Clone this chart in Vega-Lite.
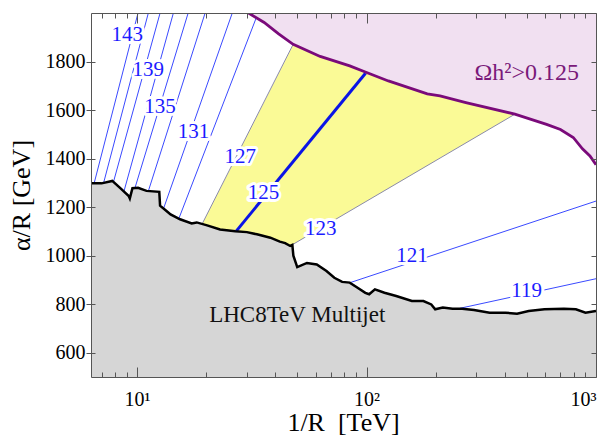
{
  "$schema": "https://vega.github.io/schema/vega-lite/v6.json",
  "width": 505,
  "height": 364,
  "autosize": {"type": "none"},
  "padding": {"left": 91, "top": 13, "right": 13, "bottom": 60},
  "config": {
    "font": "'Liberation Serif', 'Times New Roman', Times, serif",
    "view": {"stroke": null},
    "text": {"font": "'Liberation Serif', 'Times New Roman', Times, serif"},
    "axis": {"grid": false, "labelFont": "'Liberation Serif', 'Times New Roman', Times, serif", "titleFont": "'Liberation Serif', 'Times New Roman', Times, serif", "labelColor": "#000", "titleColor": "#000", "titleFontWeight": "normal", "domainColor": "#555", "tickColor": "#555", "domainWidth": 1, "tickWidth": 1}
  },
  "resolve": {"axis": {"x": "independent", "y": "independent"}},
  "datasets": {
    "lhc": [
      {"x": 6.3, "y": 1298}, {"x": 7.0, "y": 1298}, {"x": 7.8, "y": 1308}, {"x": 8.5, "y": 1276}, {"x": 9.2, "y": 1246}, {"x": 9.3, "y": 1236}, {"x": 9.55, "y": 1278}, {"x": 10.1, "y": 1280}, {"x": 11.0, "y": 1267}, {"x": 12.5, "y": 1263}, {"x": 12.6, "y": 1206}, {"x": 13.6, "y": 1180}, {"x": 14.0, "y": 1170}, {"x": 15.4, "y": 1150}, {"x": 17.3, "y": 1133}, {"x": 18.2, "y": 1137}, {"x": 20.2, "y": 1125}, {"x": 23.0, "y": 1108}, {"x": 26.8, "y": 1101}, {"x": 30.1, "y": 1097}, {"x": 33.3, "y": 1088}, {"x": 38.1, "y": 1074}, {"x": 41.9, "y": 1058}, {"x": 44.2, "y": 1052}, {"x": 46.5, "y": 1040}, {"x": 47.5, "y": 1044}, {"x": 48.0, "y": 1000}, {"x": 49.9, "y": 953}, {"x": 55.0, "y": 970}, {"x": 60.7, "y": 964}, {"x": 66.9, "y": 937}, {"x": 72.4, "y": 909}, {"x": 78.3, "y": 892}, {"x": 84.5, "y": 889}, {"x": 91.4, "y": 868}, {"x": 98.8, "y": 847}, {"x": 102.7, "y": 841}, {"x": 108.8, "y": 861}, {"x": 119.7, "y": 847}, {"x": 134.7, "y": 834}, {"x": 157.6, "y": 813}, {"x": 177, "y": 813}, {"x": 191.5, "y": 799}, {"x": 199.2, "y": 779}, {"x": 215, "y": 786}, {"x": 237, "y": 781}, {"x": 261, "y": 781}, {"x": 294, "y": 776}, {"x": 344, "y": 765}, {"x": 403, "y": 765}, {"x": 453, "y": 761}, {"x": 509, "y": 772}, {"x": 596, "y": 779}, {"x": 725, "y": 781}, {"x": 817, "y": 779}, {"x": 900, "y": 765}, {"x": 1000, "y": 772}
    ],
    "relic": [
      {"x": 30.6, "y": 2000}, {"x": 35.8, "y": 1961}, {"x": 41.4, "y": 1914}, {"x": 47.9, "y": 1871}, {"x": 62.8, "y": 1821}, {"x": 84.5, "y": 1782}, {"x": 98.8, "y": 1757}, {"x": 124.5, "y": 1720}, {"x": 184, "y": 1667}, {"x": 209, "y": 1658}, {"x": 271, "y": 1631}, {"x": 443, "y": 1583}, {"x": 609, "y": 1541}, {"x": 700, "y": 1520}, {"x": 796, "y": 1487}, {"x": 873, "y": 1440}, {"x": 941, "y": 1411}, {"x": 1000, "y": 1375}
    ],
    "band": [
      {"x": 19.2, "top": 1130, "bottom": 1130}, {"x": 20.2, "top": 1171, "bottom": 1125}, {"x": 23.0, "top": 1276, "bottom": 1108}, {"x": 26.8, "top": 1399, "bottom": 1101}, {"x": 30.1, "top": 1493, "bottom": 1097}, {"x": 33.3, "top": 1575, "bottom": 1088}, {"x": 38.1, "top": 1684, "bottom": 1074}, {"x": 41.9, "top": 1761, "bottom": 1058}, {"x": 44.2, "top": 1804, "bottom": 1052}, {"x": 46.5, "top": 1845, "bottom": 1040}, {"x": 47.9, "top": 1871, "bottom": 1047}, {"x": 62.8, "top": 1821, "bottom": 1112}, {"x": 84.5, "top": 1782, "bottom": 1184}, {"x": 98.8, "top": 1757, "bottom": 1221}, {"x": 124.5, "top": 1720, "bottom": 1277}, {"x": 184, "top": 1667, "bottom": 1371}, {"x": 209, "top": 1658, "bottom": 1402}, {"x": 271, "top": 1631, "bottom": 1464}, {"x": 443, "top": 1583, "bottom": 1583}
    ],
    "contours": [
      {"m": "143", "k": "thin", "x": 6.5, "y": 1298}, {"m": "143", "k": "thin", "x": 10.1, "y": 2000},
      {"m": "141", "k": "thin", "x": 7.15, "y": 1300}, {"m": "141", "k": "thin", "x": 11.2, "y": 2000},
      {"m": "139", "k": "thin", "x": 7.9, "y": 1305}, {"m": "139", "k": "thin", "x": 12.6, "y": 2000},
      {"m": "137", "k": "thin", "x": 8.75, "y": 1262}, {"m": "137", "k": "thin", "x": 14.4, "y": 2000},
      {"m": "135", "k": "thin", "x": 9.8, "y": 1280}, {"m": "135", "k": "thin", "x": 16.7, "y": 2000},
      {"m": "133", "k": "thin", "x": 11.2, "y": 1266}, {"m": "133", "k": "thin", "x": 19.8, "y": 2000},
      {"m": "131", "k": "thin", "x": 13.0, "y": 1190}, {"m": "131", "k": "thin", "x": 26.0, "y": 2000},
      {"m": "129", "k": "thin", "x": 15.2, "y": 1152}, {"m": "129", "k": "thin", "x": 33.0, "y": 1978},
      {"m": "127", "k": "edge", "x": 19.2, "y": 1130}, {"m": "127", "k": "edge", "x": 47.9, "y": 1871},
      {"m": "125", "k": "main", "x": 27.0, "y": 1100}, {"m": "125", "k": "main", "x": 99, "y": 1752},
      {"m": "123", "k": "edge", "x": 46.5, "y": 1040}, {"m": "123", "k": "edge", "x": 443, "y": 1583},
      {"m": "121", "k": "thin", "x": 84.9, "y": 889}, {"m": "121", "k": "thin", "x": 1000, "y": 1225},
      {"m": "119", "k": "thin", "x": 255, "y": 783}, {"m": "119", "k": "thin", "x": 1000, "y": 905}
    ],
    "labels": [
      {"t": "143", "x": 9.07, "y": 1910}, {"t": "139", "x": 11.2, "y": 1766}, {"t": "135", "x": 12.6, "y": 1614}, {"t": "131", "x": 17.6, "y": 1511}, {"t": "127", "x": 28.2, "y": 1408}, {"t": "125", "x": 35.6, "y": 1260}, {"t": "123", "x": 63.1, "y": 1111}, {"t": "121", "x": 158, "y": 1000}, {"t": "119", "x": 499, "y": 855}
    ]
  },
  "layer": [
    {
      "data": {"name": "band"},
      "mark": {"type": "area", "color": "#fafa96", "clip": true},
      "encoding": {
        "x": {"field": "x", "type": "quantitative", "scale": {"type": "log", "domain": [6.3, 1000], "nice": false},
          "axis": {"orient": "top", "values": [7, 8, 9, 20, 30, 40, 50, 60, 70, 80, 90, 200, 300, 400, 500, 600, 700, 800, 900], "labels": false, "title": null, "tickSize": -5, "domain": false, "zindex": 1}},
        "y": {"field": "top", "type": "quantitative", "scale": {"domain": [500, 2000], "nice": false, "zero": false}, "axis": null},
        "y2": {"field": "bottom"}
      }
    },
    {
      "data": {"name": "contours"},
      "transform": [{"filter": "datum.k == 'thin'"}],
      "mark": {"type": "line", "color": "#3a4aff", "strokeWidth": 1, "clip": true},
      "encoding": {
        "x": {"field": "x", "type": "quantitative", "axis": null},
        "y": {"field": "y", "type": "quantitative", "axis": null},
        "detail": {"field": "m"}
      }
    },
    {
      "data": {"name": "contours"},
      "transform": [{"filter": "datum.k == 'edge'"}],
      "mark": {"type": "line", "color": "#8a8aaa", "strokeWidth": 1, "clip": true},
      "encoding": {
        "x": {"field": "x", "type": "quantitative", "axis": null},
        "y": {"field": "y", "type": "quantitative", "axis": null},
        "detail": {"field": "m"}
      }
    },
    {
      "data": {"name": "contours"},
      "transform": [{"filter": "datum.k == 'main'"}],
      "mark": {"type": "line", "color": "#0a14e6", "strokeWidth": 3, "clip": true},
      "encoding": {
        "x": {"field": "x", "type": "quantitative", "axis": null},
        "y": {"field": "y", "type": "quantitative", "axis": null},
        "detail": {"field": "m"}
      }
    },
    {
      "data": {"name": "relic"},
      "mark": {"type": "area", "color": "#f1e0f1", "clip": true},
      "encoding": {
        "x": {"field": "x", "type": "quantitative",
          "axis": {"orient": "bottom", "values": [7, 8, 9, 20, 30, 40, 50, 60, 70, 80, 90, 200, 300, 400, 500, 600, 700, 800, 900], "labels": false, "title": null, "tickSize": -5, "domain": false, "zindex": 1}},
        "y": {"field": "y", "type": "quantitative", "axis": null},
        "y2": {"datum": 2000}
      }
    },
    {
      "data": {"name": "lhc"},
      "mark": {"type": "area", "color": "#d6d6d6", "clip": true},
      "encoding": {
        "x": {"field": "x", "type": "quantitative",
          "axis": {"orient": "bottom", "values": [10, 100, 1000], "ticks": false, "domain": false, "labelFontSize": 20, "labelPadding": 12, "labelExpr": "datum.value == 10 ? '10¹' : datum.value == 100 ? '10²' : '10³'", "title": "1/R\u00a0\u00a0[TeV]", "titleFontSize": 26, "titleX": 252, "titleY": 53, "titleAlign": "center", "titleBaseline": "alphabetic"}},
        "y": {"field": "y", "type": "quantitative",
          "axis": {"orient": "left", "values": [600, 800, 1000, 1200, 1400, 1600, 1800], "format": "d", "tickSize": 5, "labelFontSize": 20, "labelPadding": 1, "domain": true, "zindex": 1, "title": "α/R [GeV]", "titleFontSize": 26, "titleX": -70, "titleY": 182, "titleAngle": -90, "titleAlign": "center", "titleBaseline": "middle"}},
        "y2": {"datum": 500}
      }
    },
    {
      "data": {"name": "lhc"},
      "mark": {"type": "line", "color": "#000000", "strokeWidth": 2.5, "clip": true},
      "encoding": {
        "x": {"field": "x", "type": "quantitative",
          "axis": {"orient": "bottom", "values": [10, 100, 1000], "labels": false, "title": null, "tickSize": -10, "domain": true, "zindex": 1}},
        "y": {"field": "y", "type": "quantitative",
          "axis": {"orient": "right", "values": [600, 800, 1000, 1200, 1400, 1600, 1800], "labels": false, "title": null, "tickSize": -5, "domain": true, "zindex": 1}}
      }
    },
    {
      "data": {"name": "relic"},
      "mark": {"type": "line", "color": "#7a0a7a", "strokeWidth": 2.8, "clip": true},
      "encoding": {
        "x": {"field": "x", "type": "quantitative",
          "axis": {"orient": "top", "values": [10, 100, 1000], "labels": false, "title": null, "tickSize": -10, "domain": true, "zindex": 1}},
        "y": {"field": "y", "type": "quantitative",
          "axis": {"orient": "left", "values": [600, 800, 1000, 1200, 1400, 1600, 1800], "labels": false, "title": null, "tickSize": -4, "domain": false, "zindex": 1}}
      }
    },
    {
      "data": {"name": "labels"},
      "mark": {"type": "text", "fontSize": 21, "fill": "#ffffff", "stroke": "#ffffff", "strokeWidth": 6, "strokeJoin": "round"},
      "encoding": {
        "x": {"field": "x", "type": "quantitative", "axis": null},
        "y": {"field": "y", "type": "quantitative", "axis": null},
        "text": {"field": "t"}
      }
    },
    {
      "data": {"name": "labels"},
      "mark": {"type": "text", "fontSize": 21, "color": "#1b1bff"},
      "encoding": {
        "x": {"field": "x", "type": "quantitative", "axis": null},
        "y": {"field": "y", "type": "quantitative", "axis": null},
        "text": {"field": "t"}
      }
    },
    {
      "data": {"values": [{"t": "LHC8TeV Multijet", "x": 49.9, "y": 754}]},
      "mark": {"type": "text", "fontSize": 23, "color": "#111111"},
      "encoding": {
        "x": {"field": "x", "type": "quantitative", "axis": null},
        "y": {"field": "y", "type": "quantitative", "axis": null},
        "text": {"field": "t"}
      }
    },
    {
      "data": {"values": [{"t": "Ωh²>0.125", "x": 499, "y": 1752}]},
      "mark": {"type": "text", "fontSize": 24, "color": "#7a1a7a"},
      "encoding": {
        "x": {"field": "x", "type": "quantitative", "axis": null},
        "y": {"field": "y", "type": "quantitative", "axis": null},
        "text": {"field": "t"}
      }
    }
  ]
}
